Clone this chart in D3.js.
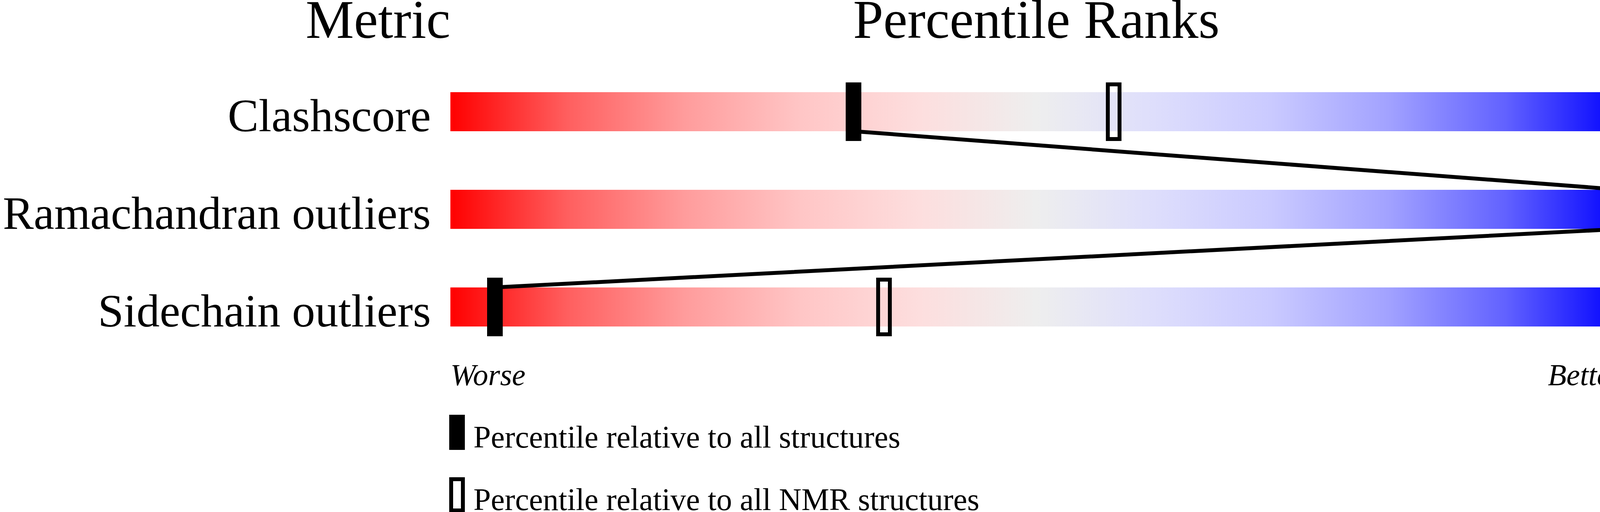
<!DOCTYPE html>
<html>
<head>
<meta charset="utf-8">
<script src="https://cdn.jsdelivr.net/npm/d3@7"></script>
<style>
  body { margin: 0; background: #fff; }
  svg { display: block; font-family: "Liberation Serif", "Times New Roman", serif; }
</style>
</head>
<body>
<svg id="chart" width="4506" height="1311"></svg>
<script>
// data
const headers = ["Metric", "Percentile Ranks", "Value"];
const metrics = ["Clashscore", "Ramachandran outliers", "Sidechain outliers"];
const values = ["8", "0", "17.7%"];
const pctAll = [34.4, 100, 3.8];      // percentile relative to all structures
const pctNmr = [56.6, null, 37.0];    // percentile relative to all NMR structures
const ends = ["Worse", "Better"];
const legendLabels = ["Percentile relative to all structures", "Percentile relative to all NMR structures"];

// red -> grey -> blue ramp of the slider
const rampStops = [
  [0, "#ff0000"], [0.1, "#ff5f5f"], [0.2, "#ff9c9c"], [0.3, "#ffc6c6"], [0.4, "#fddede"],
  [0.5, "#eeeeee"], [0.6, "#dedefc"], [0.7, "#cacaff"], [0.8, "#a2a2ff"], [0.9, "#6262ff"], [1, "#0000ff"]
];

const svg = d3.select("#chart");

const x = d3.scaleLinear().domain([0, 100]).range([1153, 4153]);
const y = d3.scaleBand().domain(metrics).range([236, 836]).paddingInner(0.6);
const bh = y.bandwidth();

const grad = svg.append("defs").append("linearGradient")
  .attr("id", "ramp")
  .attr("x1", "0%").attr("x2", "100%").attr("y1", "0%").attr("y2", "0%");
grad.selectAll("stop")
  .data(rampStops)
  .enter().append("stop")
  .attr("offset", d => d[0])
  .attr("stop-color", d => d[1]);

// column headers
svg.selectAll(".hdr")
  .data(headers)
  .enter().append("text")
  .attr("class", "hdr")
  .attr("x", (d, i) => [x(0), (x(0) + x(100)) / 2, x(100)][i])
  .attr("y", 97)
  .attr("text-anchor", (d, i) => ["end", "middle", "start"][i])
  .attr("font-size", 139)
  .text(d => d);

// bars
svg.selectAll(".bar")
  .data(metrics)
  .enter().append("rect")
  .attr("class", "bar")
  .attr("x", x(0))
  .attr("y", d => y(d))
  .attr("width", x(100) - x(0))
  .attr("height", bh)
  .attr("fill", "url(#ramp)");

// metric labels and values
svg.selectAll(".lbl")
  .data(metrics)
  .enter().append("text")
  .attr("class", "lbl")
  .attr("x", x(0) - 50)
  .attr("y", d => y(d) + bh)
  .attr("text-anchor", "end")
  .attr("font-size", 118.5)
  .text(d => d);

svg.selectAll(".val")
  .data(values)
  .enter().append("text")
  .attr("class", "val")
  .attr("x", x(100) + 50)
  .attr("y", (d, i) => y(metrics[i]) + bh)
  .attr("font-size", 118.5)
  .text(d => d);

// NMR markers (open)
const nmr = metrics.map((m, i) => ({ m, p: pctNmr[i] })).filter(d => d.p != null);
svg.selectAll(".nmr")
  .data(nmr)
  .enter().append("rect")
  .attr("class", "nmr")
  .attr("x", d => x(d.p) - 15)
  .attr("y", d => y(d.m) - 20)
  .attr("width", 30)
  .attr("height", bh + 40)
  .attr("fill", "none")
  .attr("stroke", "#000")
  .attr("stroke-width", 10);

// connecting line: bottom of one bar to top of the next
const pts = [];
metrics.forEach((m, i) => {
  if (i > 0) pts.push([x(pctAll[i]), y(m)]);
  if (i < metrics.length - 1) pts.push([x(pctAll[i]), y(m) + bh]);
});
svg.append("path")
  .attr("d", d3.line()(pts))
  .attr("fill", "none")
  .attr("stroke", "#000")
  .attr("stroke-width", 10);

// all-structure markers (filled)
svg.selectAll(".all")
  .data(metrics)
  .enter().append("rect")
  .attr("class", "all")
  .attr("x", (d, i) => x(pctAll[i]) - 20)
  .attr("y", d => y(d) - 25)
  .attr("width", 40)
  .attr("height", bh + 50)
  .attr("fill", "#000");

// Worse / Better
svg.selectAll(".end")
  .data(ends)
  .enter().append("text")
  .attr("class", "end")
  .attr("x", (d, i) => i === 0 ? x(0) : x(100))
  .attr("y", 986)
  .attr("text-anchor", (d, i) => i === 0 ? "start" : "end")
  .attr("font-size", 78)
  .attr("font-style", "italic")
  .text(d => d);

// legend
const lg = svg.selectAll(".lg")
  .data(legendLabels)
  .enter().append("g")
  .attr("class", "lg")
  .attr("transform", (d, i) => `translate(1150,${1062 + i * 160})`);

lg.append("rect")
  .attr("x", (d, i) => i === 0 ? 0 : 5)
  .attr("y", (d, i) => i === 0 ? 0 : 5)
  .attr("width", (d, i) => i === 0 ? 40 : 30)
  .attr("height", (d, i) => i === 0 ? 90 : 80)
  .attr("fill", (d, i) => i === 0 ? "#000" : "none")
  .attr("stroke", (d, i) => i === 0 ? "none" : "#000")
  .attr("stroke-width", 10);

lg.append("text")
  .attr("x", 62)
  .attr("y", 84)
  .attr("font-size", 80)
  .text(d => d);
</script>
</body>
</html>
